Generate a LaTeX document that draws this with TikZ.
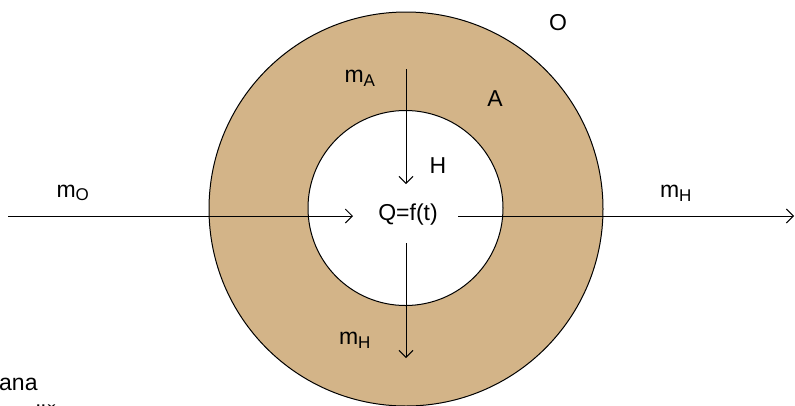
\documentclass[tikz,border=0pt]{standalone}
\usepackage{fontspec}
\setmainfont{Liberation Sans}
\usetikzlibrary{arrows.meta}
\definecolor{ringtan}{RGB}{211,180,136}
\tikzset{
  lbl/.style={inner sep=0pt, font=\fontsize{23}{26}\selectfont},
  flow/.style={line width=1pt, -{Straight Barb[length=7pt,width=14pt,line width=1pt]}},
  plainline/.style={line width=1pt}
}
\newcommand{\mysub}[2]{#1\textsubscript{\fontsize{17}{19}\selectfont #2}}
\begin{document}
\begin{tikzpicture}[x=1pt,y=-1pt]
\useasboundingbox (0,0) rectangle (795,405);
\fill[white] (0,0) rectangle (795,405);
\draw[line width=1pt, fill=ringtan] (406,209) circle[radius=197];
\draw[line width=1pt, fill=white] (405.5,208) circle[radius=97.5];
% labels
\node[lbl] (q) at (408,215) {Q=f(t)};
\node[lbl] (mo) at (73,193) {\mysub{m}{O}};
\node[lbl] (mhr) at (676,193) {\mysub{m}{H}};
\node[lbl] (ma) at (360,78) {\mysub{m}{A}};
\node[lbl] (mhb) at (355,340) {\mysub{m}{H}};
\node[lbl] (h) at (438,166) {H};
\node[lbl] (o) at (558,23) {O};
\node[lbl] (a) at (495,99) {A};
\node[lbl, anchor=west] (ana) at (-1,384) {ana};
\node[lbl, anchor=west] (dlz) at (28,413) {dlž};
% connectors
\coordinate (l0) at (8,216);
\coordinate (l1) at (353,216);
\coordinate (r0) at (458,216);
\coordinate (r1) at (794,216);
\coordinate (t0) at (406,69);
\coordinate (t1) at (406,184);
\coordinate (b0) at (406,243);
\coordinate (b1) at (406,358);
\draw[flow] (l0) -- (l1);
\draw[flow] (r0) -- (r1);
\draw[flow] (t0) -- (t1);
\draw[flow] (b0) -- (b1);
\end{tikzpicture}
\end{document}
